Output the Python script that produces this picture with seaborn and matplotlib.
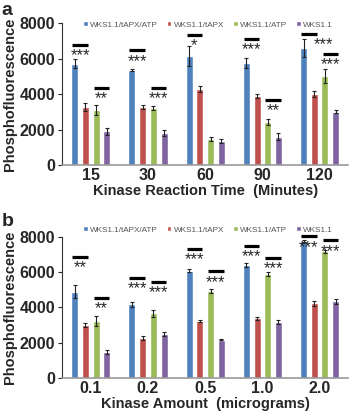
import numpy as np
import pandas as pd
import matplotlib
matplotlib.use('Agg')
from matplotlib import pyplot as plt
import seaborn as sns

# 데이터
series = ['WKS1.1/tAPX/ATP', 'WKS1.1/tAPX', 'WKS1.1/ATP', 'WKS1.1']
colors = ['#4F81BD', '#C0504D', '#9BBB59', '#8064A2']

time_cats = ['15', '30', '60', '90', '120']
time_vals = [[5700, 5350, 6150, 5750, 6580],
             [3270, 3270, 4280, 3870, 4000],
             [3100, 3200, 1480, 2430, 5000],
             [1900, 1800, 1350, 1600, 3000]]
time_err = [[250, 40, 550, 300, 500],
            [250, 100, 150, 120, 150],
            [300, 100, 100, 150, 400],
            [200, 150, 120, 200, 80]]

amt_cats = ['0.1', '0.2', '0.5', '1.0', '2.0']
amt_vals = [[4900, 4180, 6080, 6430, 7760],
            [3000, 2250, 3250, 3380, 4240],
            [3220, 3680, 4940, 5890, 7190],
            [1470, 2480, 2170, 3180, 4350]]
amt_err = [[350, 150, 80, 120, 50],
           [100, 100, 50, 80, 150],
           [300, 200, 100, 100, 100],
           [100, 100, 20, 100, 130]]

# 유의성 표시: (그룹, 쌍(0=blue/red, 1=green/purple), 선 높이, 라벨, x 이동)
time_sig = [(0, 0, 6780, '***', 0), (0, 1, 4360, '**', 0),
            (1, 0, 6460, '***', 0), (1, 1, 4360, '***', 0),
            (2, 0, 7340, '*', 0),
            (3, 0, 7120, '***', 0), (3, 1, 3690, '**', 0),
            (4, 0, 7400, '***', 0.25), (4, 1, 6270, '***', 0)]
amt_sig = [(0, 0, 6860, '**', 0), (0, 1, 4560, '**', 0),
           (1, 0, 5700, '***', 0), (1, 1, 5440, '***', 0),
           (2, 0, 7320, '***', 0), (2, 1, 6050, '***', 0),
           (3, 0, 7510, '***', 0), (3, 1, 6810, '***', 0),
           (4, 0, 8040, '***', 0), (4, 1, 7810, '***', 0)]

sns.set_style('white')
plt.rcParams['font.family'] = ['Liberation Sans', 'DejaVu Sans']


def draw_panel(ax, cats, vals, errs, sigs, xlabel, leg_y):
    df = pd.DataFrame({
        'cat': np.tile(cats, len(series)),
        'series': np.repeat(series, len(cats)),
        'val': np.concatenate(vals),
    })
    sns.barplot(data=df, x='cat', y='val', hue='series', order=cats,
                hue_order=series, palette=colors, errorbar=None,
                width=0.75, gap=0.35, ax=ax, saturation=1)
    bar_conts = list(ax.containers)
    centers = []
    for i, cont in enumerate(bar_conts):
        xs = [b.get_x() + b.get_width() / 2 for b in cont]
        centers.append(xs)
        ax.errorbar(xs, vals[i], yerr=errs[i], fmt='none', ecolor='#222222',
                    elinewidth=0.8, capsize=1.5, capthick=0.8)
    for g, pair, h, lab, dx in sigs:
        x0 = centers[pair * 2][g]
        x1 = centers[pair * 2 + 1][g]
        xm = (x0 + x1) / 2
        ax.plot([xm - 0.135, xm + 0.135], [h, h], color='black', lw=2.3,
                solid_capstyle='butt', clip_on=False)
        ax.text(xm + dx, h - 200, lab, ha='center', va='top',
                fontsize=12, clip_on=False)
    ax.set_ylim(0, 8000)
    ax.set_yticks([0, 2000, 4000, 6000, 8000])
    ax.set_xlim(-0.5, len(cats) - 0.5)
    ax.set_xlabel(xlabel, fontsize=10.5, fontweight='bold', labelpad=1)
    ax.set_ylabel('Phosphofluorescence', fontsize=10.5, fontweight='bold',
                  labelpad=2)
    for t in ax.get_xticklabels() + ax.get_yticklabels():
        t.set_fontweight('bold')
        t.set_fontsize(11.5)
    ax.tick_params(axis='x', length=0, pad=2)
    ax.tick_params(axis='y', length=3, width=0.8, pad=2, left=True)
    sns.despine(ax=ax)
    ax.spines['left'].set_color('#333333')
    ax.spines['bottom'].set_color('#999999')
    ax.spines['bottom'].set_linewidth(1.2)
    leg = ax.legend(ncol=4, loc='center', bbox_to_anchor=(0.51, leg_y),
                    frameon=False, fontsize=5.9, handlelength=0.55,
                    handleheight=0.55, columnspacing=1.1, handletextpad=0.3,
                    borderaxespad=0)
    for t in leg.get_texts():
        t.set_color('#555555')


fig = plt.figure(figsize=(3.59, 4.18), dpi=100)
ax1 = fig.add_axes([0.173, 0.605, 0.797, 0.34])
ax2 = fig.add_axes([0.173, 0.096, 0.797, 0.337])

draw_panel(ax1, time_cats, time_vals, time_err, time_sig,
           'Kinase Reaction Time  (Minutes)', 0.985)
draw_panel(ax2, amt_cats, amt_vals, amt_err, amt_sig,
           'Kinase Amount  (micrograms)', 1.05)

fig.text(0.005, 0.995, 'a', fontsize=14, fontweight='bold', va='top')
fig.text(0.005, 0.49, 'b', fontsize=14, fontweight='bold', va='top')

fig.savefig('out.png', dpi=100)
